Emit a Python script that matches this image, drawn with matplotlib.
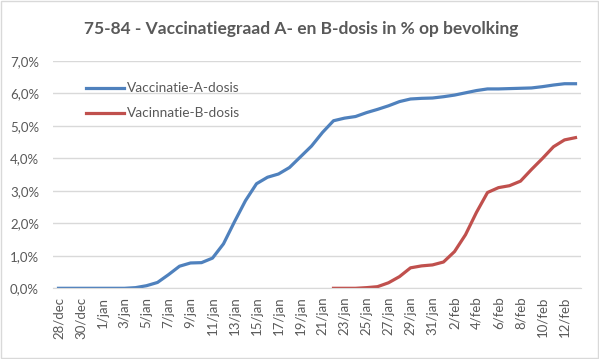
import matplotlib.pyplot as plt
import matplotlib.patches as patches
import numpy as np
import pandas as pd

# Dates 28/dec .. 13/feb (one point per day)
dates = pd.date_range('2020-12-28', '2021-02-13', freq='D')
month_names = {12: 'dec', 1: 'jan', 2: 'feb'}
date_labels = [f"{d.day}/{month_names[d.month]}" for d in dates]

# Vaccination rate in %
dose_a = [0, 0, 0, 0, 0, 0, 0, 0.02, 0.08, 0.18, 0.42, 0.68, 0.78, 0.79,
          0.93, 1.37, 2.05, 2.70, 3.22, 3.42, 3.52, 3.72, 4.05, 4.38, 4.80,
          5.16, 5.24, 5.29, 5.41, 5.51, 5.62, 5.75, 5.83, 5.85, 5.86, 5.90,
          5.95, 6.02, 6.09, 6.14, 6.14, 6.15, 6.16, 6.17, 6.21, 6.26, 6.30,
          6.30]
# B-dose starts on 22/jan
dose_b = [np.nan] * 25 + [0, 0, 0, 0.02, 0.05, 0.17, 0.36, 0.63, 0.69, 0.72,
                          0.81, 1.13, 1.65, 2.34, 2.95, 3.10, 3.16, 3.30,
                          3.66, 4.00, 4.36, 4.57, 4.64]

y_ticks = [0, 1, 2, 3, 4, 5, 6, 7]
y_labels = ['0,0%', '1,0%', '2,0%', '3,0%', '4,0%', '5,0%', '6,0%', '7,0%']

grey_text = '#595959'
grid_col = '#d9d9d9'

plt.rcParams['font.family'] = ['Lato', 'DejaVu Sans']

fig = plt.figure(figsize=(5.99, 3.59), dpi=100)
ax = fig.add_axes([53 / 599, 1 - 288.3 / 359, 528 / 599, 227.3 / 359])

# chart area border
fig.patches.append(patches.Rectangle((0.001, 0.002), 0.997, 0.996, transform=fig.transFigure,
                                     fill=False, edgecolor=grid_col, linewidth=1))

x = np.arange(len(dates))
ax.plot(x, dose_a, color='#4F81BD', linewidth=2.3, label='Vaccinatie-A-dosis')
ax.plot(x, dose_b, color='#C0504D', linewidth=2.3, label='Vacinnatie-B-dosis')

ax.set_xlim(-0.5, len(dates) - 0.5)
ax.set_ylim(0, 7)
ax.set_yticks(y_ticks)
ax.set_yticklabels(y_labels)
ax.set_xticks(x[::2])
ax.set_xticklabels(date_labels[::2], rotation=90)
ax.tick_params(axis='y', length=0, pad=10, labelsize=9.5, labelcolor=grey_text)
ax.tick_params(axis='x', length=0, pad=6, labelsize=9.5, labelcolor=grey_text)

ax.grid(axis='y', color=grid_col, linewidth=1)
ax.set_axisbelow(True)
for side in ['top', 'right', 'left']:
    ax.spines[side].set_visible(False)
ax.spines['bottom'].set_color(grid_col)

leg = ax.legend(loc='upper left', bbox_to_anchor=(0.04, 0.96), frameon=False,
                fontsize=9.8, handlelength=2.75, handletextpad=0.2, labelspacing=0.95)
for t in leg.get_texts():
    t.set_color(grey_text)

fig.text(0.503, 1 - 29 / 359, '75-84 - Vaccinatiegraad A- en B-dosis in % op bevolking',
         ha='center', va='center', fontsize=12.5, fontweight='bold', color=grey_text)

fig.savefig('out.png', dpi=100)
